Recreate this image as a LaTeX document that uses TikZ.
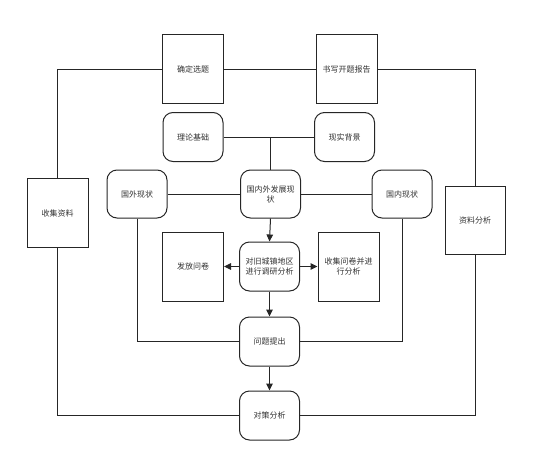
\documentclass[tikz,border=0pt]{standalone}
\usepackage{fontspec}
\newfontfamily\cjk{Noto Sans CJK SC}
\usetikzlibrary{arrows.meta}
\definecolor{ln}{HTML}{262626}
\definecolor{tx}{HTML}{333333}
\tikzset{
  base/.style={draw=ln, line width=1pt, fill=white, text=tx, font=\cjk\fontsize{8}{10}\selectfont, align=center, inner sep=1pt},
  sq/.style={base, minimum width=61pt, minimum height=69pt},
  rd/.style={base, rounded corners=10pt, minimum width=60pt, minimum height=49pt},
  con/.style={draw=ln, line width=1pt},
  arr/.style={con, -{Triangle[length=7pt,width=6.5pt]}}
}
\begin{document}
\begin{tikzpicture}[x=1pt,y=-1pt]
\useasboundingbox (0,0) rectangle (546,450);
\node[sq] (xuanti) at (193,69) {确定选题};
\node[sq] (baogao) at (346.5,69) {书写开题报告};
\node[sq] (shouji) at (57.5,213) {收集资料};
\node[sq, minimum width=60pt, minimum height=68pt] (ziliao) at (475,220) {资料分析};
\node[rd] (lilun) at (193,137) {理论基础};
\node[rd] (xianshi) at (344.5,137) {现实背景};
\node[rd, minimum height=48pt] (gnw) at (270.5,194) {国内外发展现\\状};
\node[rd, minimum height=48pt] (guowai) at (137,194) {国外现状};
\node[rd, minimum height=48pt] (guonei) at (402,194) {国内现状};
\node[rd] (diaoyan) at (269.5,266.5) {对旧城镇地区\\进行调研分析};
\node[sq] (wenjuan) at (193,266.5) {发放问卷};
\node[sq] (shouwj) at (348.5,266.5) {收集问卷并进\\行分析};
\node[rd] (wenti) at (269.5,341.5) {问题提出};
\node[rd] (duice) at (269.5,415.5) {对策分析};
\coordinate (j1) at (gnw.north |- lilun.east);
\draw[con] (shouji.north) |- (xuanti.west);
\draw[con] (xuanti.east) -- (baogao.west);
\draw[con] (baogao.east) -| (ziliao.north);
\draw[con] (lilun.east) -- (xianshi.west);
\draw[con] (j1) -- (gnw.north);
\draw[con] (guowai.east) -- (gnw.west);
\draw[con] (gnw.east) -- (guonei.west);
\draw[arr] (gnw.south) -- (diaoyan.north);
\draw[arr] (diaoyan.west) -- (wenjuan.east);
\draw[arr] (diaoyan.east) -- (shouwj.west);
\draw[arr] (diaoyan.south) -- (wenti.north);
\draw[arr] (wenti.south) -- (duice.north);
\draw[con] (guowai.south) |- (wenti.west);
\draw[con] (guonei.south) |- (wenti.east);
\draw[con] (shouji.south) |- (duice.west);
\draw[con] (ziliao.south) |- (duice.east);
\end{tikzpicture}
\end{document}
